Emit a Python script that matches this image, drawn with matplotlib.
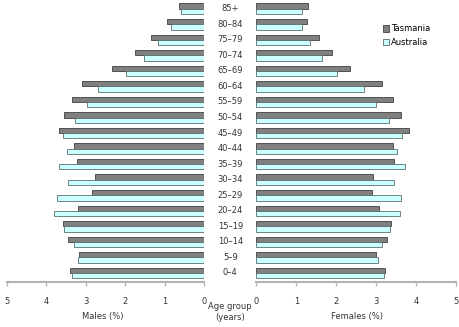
import numpy as np
import matplotlib.pyplot as plt

ages = ["0–4", "5–9", "10–14", "15–19", "20–24", "25–29", "30–34", "35–39", "40–44",
        "45–49", "50–54", "55–59", "60–64", "65–69", "70–74", "75–79", "80–84", "85+"]

# percent of population (youngest first)
males_tas = [3.41, 3.16, 3.44, 3.57, 3.20, 2.84, 2.76, 3.22, 3.29,
             3.67, 3.54, 3.34, 3.09, 2.33, 1.75, 1.34, 0.94, 0.64]
males_aus = [3.34, 3.19, 3.29, 3.54, 3.80, 3.72, 3.44, 3.67, 3.47,
             3.57, 3.27, 2.96, 2.68, 1.97, 1.52, 1.16, 0.84, 0.59]
females_tas = [3.21, 2.98, 3.26, 3.36, 3.06, 2.88, 2.91, 3.43, 3.41,
               3.81, 3.61, 3.41, 3.13, 2.33, 1.88, 1.57, 1.26, 1.28]
females_aus = [3.18, 3.03, 3.13, 3.33, 3.58, 3.61, 3.43, 3.71, 3.51,
               3.63, 3.31, 3.00, 2.68, 2.01, 1.63, 1.35, 1.13, 1.15]

TAS = "#808080"
AUS = "#CCFFFF"
EDGE = "#404040"
SPINE = "#B4B4B4"

W, H = 459, 327
fig = plt.figure(figsize=(W / 100, H / 100), dpi=100)
plt.rcParams["font.family"] = "DejaVu Sans"

y = np.arange(len(ages))
bh = 0.34
ylim = (-0.56, 17.56)
top_px, bot_px = 0, 281.7


def make_ax(x0, x1):
    ax = fig.add_axes([x0 / W, 1 - bot_px / H, (x1 - x0) / W, (bot_px - top_px) / H])
    ax.set_ylim(*ylim)
    ax.set_xlim(0, 5)
    for s in ("top", "left", "right"):
        ax.spines[s].set_visible(False)
    ax.spines["bottom"].set_color(SPINE)
    ax.spines["bottom"].set_linewidth(1.5)
    ax.set_yticks([])
    ax.set_xticks([0, 1, 2, 3, 4, 5])
    ax.tick_params(axis="x", colors=SPINE, length=3, width=1, labelsize=6,
                   labelcolor="#333333", pad=8)
    return ax


axl = make_ax(6.7, 204.3)
axl.invert_xaxis()
axl.barh(y + bh / 2, males_tas, height=bh, color=TAS, edgecolor=EDGE, linewidth=0.6)
axl.barh(y - bh / 2, males_aus, height=bh, color=AUS, edgecolor="#5A6E6E", linewidth=0.6)

axr = make_ax(256.3, 456.3)
axr.barh(y + bh / 2, females_tas, height=bh, color=TAS, edgecolor=EDGE, linewidth=0.6,
         label="Tasmania")
axr.barh(y - bh / 2, females_aus, height=bh, color=AUS, edgecolor="#5A6E6E", linewidth=0.6,
         label="Australia")

# age labels in the middle
for i, a in enumerate(ages):
    axr.text(-0.65, i, a, ha="center", va="center", fontsize=6, color="#333333",
             clip_on=False)

leg = axr.legend(loc="upper left", bbox_to_anchor=(0.615, 0.925), frameon=False, fontsize=6,
                 handlelength=0.8, handleheight=0.8, handletextpad=0.2, labelspacing=0.55,
                 borderaxespad=0)

fig.text(103 / W, 1 - 316 / H, "Males (%)", ha="center", va="center", fontsize=6,
         color="#333333")
fig.text(357 / W, 1 - 316 / H, "Females (%)", ha="center", va="center", fontsize=6,
         color="#333333")
fig.text(230 / W, 1 - 312 / H, "Age group\n(years)", ha="center", va="center", fontsize=6,
         color="#333333", linespacing=1.3)

fig.savefig("out.png", dpi=100)
